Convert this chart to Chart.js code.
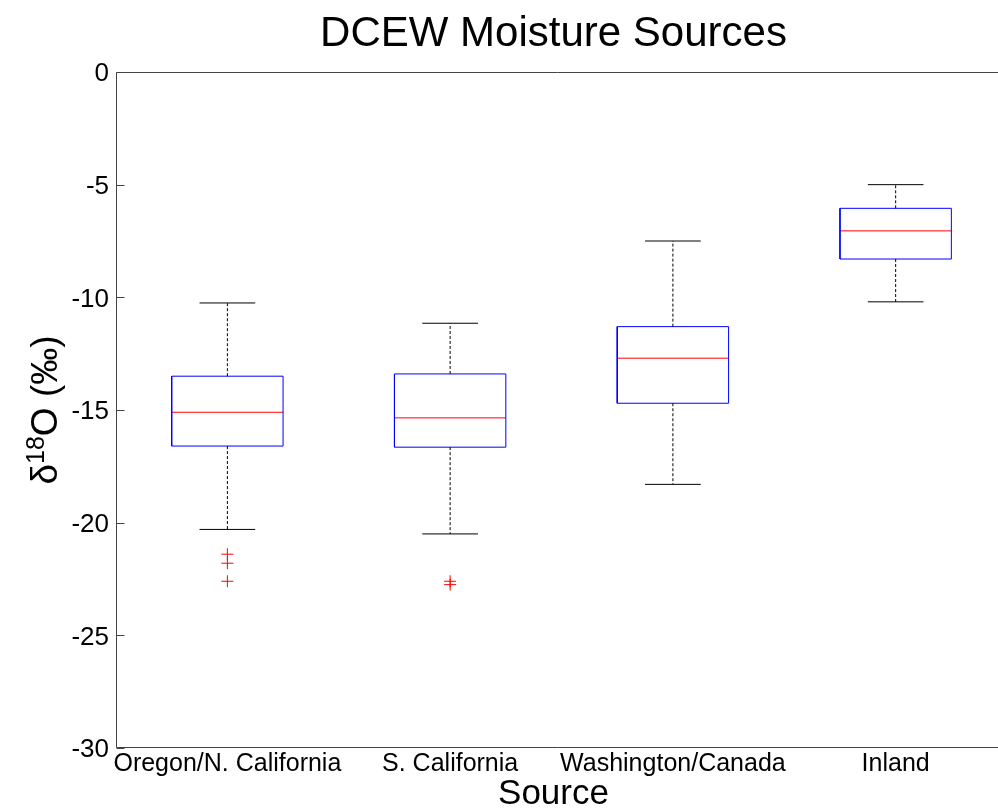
<!DOCTYPE html>
<html>
<head>
<meta charset="utf-8">
<script src="https://cdn.jsdelivr.net/npm/chart.js@4"></script>
<style>
  html, body { margin: 0; padding: 0; background: #fff; overflow: hidden; }
  #wrap { width: 998px; height: 812px; }
</style>
</head>
<body>
<div id="wrap"><canvas id="boxChart" width="998" height="812"></canvas></div>
<script>
// Source regions and box plot statistics (delta 18O, permil)
const categories = ['Oregon/N. California', 'S. California', 'Washington/Canada', 'Inland'];
const whiskerLow = [-20.3, -20.5, -18.3, -10.2];
const q1 = [-16.6, -16.65, -14.7, -8.3];
const medians = [-15.1, -15.35, -12.7, -7.05];
const q3 = [-13.5, -13.4, -11.3, -6.05];
const whiskerHigh = [-10.25, -11.15, -7.5, -5.0];
const outliers = [[-21.4, -21.8, -22.6], [-22.6, -22.75], [], []];
const yTicks = [0, -5, -10, -15, -20, -25, -30];

const FONT = "'Liberation Sans', Arial, Helvetica, sans-serif";
const boxHalf = 0.25;  // half box width in x units
const capHalf = 0.125; // half whisker cap width

// build line segments from the stats, null point breaks the line
const gap = (x) => ({ x: x, y: null });
const boxPts = [], medPts = [], whiskPts = [], capPts = [], outPts = [];
categories.forEach((c, i) => {
    const x = i + 1;
    boxPts.push({ x: x - boxHalf, y: q1[i] }, { x: x + boxHalf, y: q1[i] },
                { x: x + boxHalf, y: q3[i] }, { x: x - boxHalf, y: q3[i] },
                { x: x - boxHalf, y: q1[i] }, gap(x));
    medPts.push({ x: x - boxHalf, y: medians[i] }, { x: x + boxHalf, y: medians[i] }, gap(x));
    whiskPts.push({ x: x, y: q3[i] }, { x: x, y: whiskerHigh[i] }, gap(x),
                  { x: x, y: q1[i] }, { x: x, y: whiskerLow[i] }, gap(x));
    capPts.push({ x: x - capHalf, y: whiskerHigh[i] }, { x: x + capHalf, y: whiskerHigh[i] }, gap(x),
                { x: x - capHalf, y: whiskerLow[i] }, { x: x + capHalf, y: whiskerLow[i] }, gap(x));
    outliers[i].forEach(v => outPts.push({ x: x, y: v }));
});

const seg = (data, color, dash) => ({
    data: data,
    showLine: true,
    borderColor: color,
    borderWidth: 1,
    borderDash: dash || [],
    pointRadius: 0,
    tension: 0,
    spanGaps: false,
    fill: false
});

// axis frame, inward ticks and the y label with a real superscript
const framePlugin = {
    id: 'frame',
    afterDraw(chart) {
        const { ctx, chartArea: a, scales } = chart;
        const l = Math.round(a.left) + 0.5, t = Math.round(a.top) + 0.5, b = Math.round(a.bottom) - 0.5;
        const r = chart.width + 1; // plot box runs past the right edge of the picture
        ctx.save();
        ctx.strokeStyle = '#444';
        ctx.lineWidth = 1;
        ctx.beginPath();
        ctx.moveTo(r, t); ctx.lineTo(l, t); ctx.lineTo(l, b); ctx.lineTo(r, b);
        yTicks.forEach(v => {
            const py = Math.round(scales.y.getPixelForValue(v)) + 0.5;
            ctx.moveTo(l, py); ctx.lineTo(l + 8, py);
        });
        ctx.stroke();

        ctx.fillStyle = '#000';
        ctx.translate(57, (a.top + a.bottom) / 2);
        ctx.rotate(-Math.PI / 2);
        ctx.textBaseline = 'alphabetic';
        const big = '37px ' + FONT, small = '25px ' + FONT;
        ctx.font = big;
        const w1 = ctx.measureText('\u03b4').width;
        const w3 = ctx.measureText('O (\u2030)').width;
        ctx.font = small;
        const w2 = ctx.measureText('18').width;
        let x = -(w1 + w2 + w3) / 2;
        ctx.font = big; ctx.fillText('\u03b4', x, 0); x += w1;
        ctx.font = small; ctx.fillText('18', x, -13); x += w2;
        ctx.font = big; ctx.fillText('O (\u2030)', x, 0);
        ctx.restore();
    }
};

new Chart(document.getElementById('boxChart'), {
    type: 'scatter',
    data: {
        datasets: [
            seg(whiskPts, '#000', [3, 2]),
            seg(capPts, '#000'),
            seg(boxPts, '#0000ff'),
            seg(medPts, '#ff0000'),
            {
                data: outPts,
                showLine: false,
                pointStyle: 'cross',
                pointRadius: 6,
                borderColor: '#ff0000',
                borderWidth: 1,
                backgroundColor: '#ff0000'
            }
        ]
    },
    options: {
        responsive: false,
        animation: false,
        layout: { padding: { left: 0, right: 0, top: 0, bottom: 0 } },
        plugins: {
            legend: { display: false },
            tooltip: { enabled: false },
            title: {
                display: true,
                text: 'DCEW Moisture Sources',
                fullSize: false,
                color: '#000',
                font: { family: FONT, size: 42, weight: 'normal', lineHeight: 1.2 },
                padding: { top: 9, bottom: 12.6 }
            }
        },
        scales: {
            x: {
                type: 'linear',
                min: 0.5,
                max: 4.428,
                grid: { display: false, drawTicks: false },
                border: { display: false },
                afterFit: (s) => { s.height = 64; s.paddingLeft = 0; s.paddingRight = 0; },
                afterBuildTicks: (s) => { s.ticks = categories.map((c, i) => ({ value: i + 1 })); },
                ticks: {
                    autoSkip: false,
                    maxRotation: 0,
                    padding: 1,
                    color: '#000',
                    font: { family: FONT, size: 25 },
                    callback: (v) => categories[v - 1]
                },
                title: {
                    display: true,
                    text: 'Source',
                    color: '#000',
                    font: { family: FONT, size: 35, lineHeight: 1.0 },
                    padding: { top: 0, bottom: 0 }
                }
            },
            y: {
                type: 'linear',
                min: -30,
                max: 0,
                grid: { display: false, drawTicks: false },
                border: { display: false },
                afterFit: (s) => { s.width = 116; },
                afterBuildTicks: (s) => { s.ticks = yTicks.map(v => ({ value: v })); },
                ticks: {
                    padding: 7,
                    labelOffset: 2,
                    color: '#000',
                    font: { family: FONT, size: 26 }
                }
            }
        }
    },
    plugins: [framePlugin]
});
</script>
</body>
</html>
